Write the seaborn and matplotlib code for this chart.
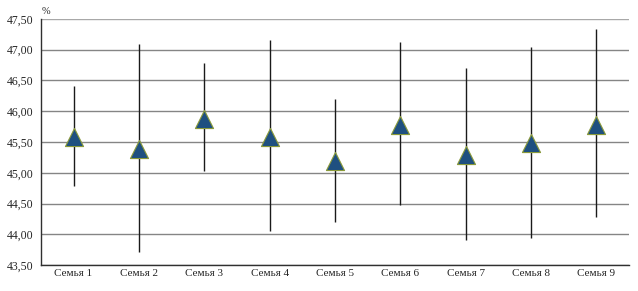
import numpy as np
import pandas as pd
import matplotlib
matplotlib.use("Agg")
import matplotlib.pyplot as plt
import seaborn as sns
from matplotlib.ticker import FuncFormatter, FixedLocator

# values
families = ["Семья 1", "Семья 2", "Семья 3", "Семья 4", "Семья 5",
            "Семья 6", "Семья 7", "Семья 8", "Семья 9"]
means = [45.58, 45.38, 45.88, 45.58, 45.19, 45.78, 45.29, 45.48, 45.78]
lows = [44.78, 43.72, 45.03, 44.05, 44.20, 44.48, 43.91, 43.94, 44.28]
highs = [46.41, 47.09, 46.78, 47.16, 46.20, 47.13, 46.70, 47.05, 47.33]

df = pd.DataFrame({"family": families, "mean": means, "low": lows, "high": highs})

sns.set_style("white")
plt.rcParams["font.family"] = ["Liberation Serif", "DejaVu Serif"]

fig = plt.figure(figsize=(6.38, 2.91), dpi=100)
ax = fig.add_axes([0.064, 0.089, 0.922, 0.846])

pos = np.arange(len(families))
ax.vlines(pos, df["low"], df["high"], color="#1a1a1a", linewidth=1.0, zorder=2)
sns.scatterplot(x=pos, y=df["mean"], marker="^", s=170, color="#1f5080",
                edgecolor="#8a9a3a", linewidth=0.8, zorder=3, ax=ax, legend=False)

ax.set_ylim(43.5, 47.5)
ax.set_xlim(-0.5, len(families) - 0.5)
ax.set_yticks(np.arange(43.5, 47.51, 0.5))
ax.yaxis.set_major_formatter(FuncFormatter(lambda v, p: f"{v:.2f}".replace(".", ",")))
ax.set_xticks(pos)
ax.set_xticklabels(families)
ax.xaxis.set_minor_locator(FixedLocator(np.arange(-0.5, len(families), 1.0)))
ax.tick_params(axis="x", which="major", length=0, labelsize=8, pad=3)
ax.tick_params(axis="x", which="minor", length=4, width=0.9, color="#404040", direction="inout")
ax.tick_params(axis="y", length=3, width=0.9, color="#404040", labelsize=8.5, pad=2)
ax.set_xlabel("")
ax.set_ylabel("")

ax.grid(axis="y", color="#858585", linewidth=1.0)
ax.get_ygridlines()[-1].set_color("#a8a8a8")
ax.set_axisbelow(True)
for s in ["top", "right"]:
    ax.spines[s].set_visible(False)
for s in ["left", "bottom"]:
    ax.spines[s].set_color("#303030")
    ax.spines[s].set_linewidth(1.0)

fig.text(0.066, 0.945, "%", fontsize=7.5, ha="left", va="bottom")

fig.savefig("out.png", dpi=100)
